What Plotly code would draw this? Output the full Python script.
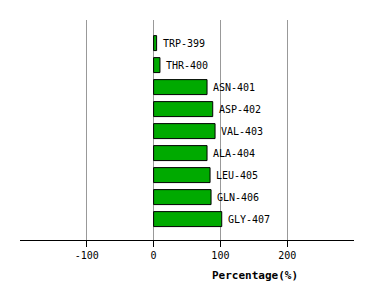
import plotly.graph_objects as go

residues = ["TRP-399", "THR-400", "ASN-401", "ASP-402", "VAL-403",
            "ALA-404", "LEU-405", "GLN-406", "GLY-407"]
percentages = [4.5, 9.5, 80, 88.5, 92, 80, 84.5, 86, 102]
tick_values = [-100, 0, 100, 200]
tick_labels = ["-100", "0", "100", "200"]

MONO = "DejaVu Sans Mono"

fig = go.Figure()
fig.add_trace(go.Bar(
    x=percentages,
    y=residues,
    orientation="h",
    width=0.68,
    marker=dict(color="#00aa00", line=dict(color="black", width=1)),
    hoverinfo="skip",
))

annotations = [dict(
    x=v, y=r, xref="x", yref="y", text=r,
    xanchor="left", yanchor="middle", xshift=4,
    showarrow=False,
    font=dict(family=MONO, size=10, color="black"),
) for r, v in zip(residues, percentages)]

annotations.append(dict(
    text="<b>Percentage(%)</b>",
    xref="paper", yref="paper",
    x=0.704, y=-0.163, xanchor="center", yanchor="middle",
    showarrow=False,
    font=dict(family=MONO, size=11, color="black"),
))

fig.update_layout(
    width=374, height=300,
    margin=dict(l=20, r=20, t=20, b=60),
    paper_bgcolor="white", plot_bgcolor="white",
    showlegend=False,
    font=dict(family=MONO, size=10, color="black"),
    xaxis=dict(
        range=[-200, 300],
        tickvals=tick_values,
        ticktext=tick_labels,
        showgrid=True, gridcolor="#999999", gridwidth=1,
        zeroline=False,
        showline=True, linecolor="black", linewidth=1,
        ticks="outside", ticklen=6, tickcolor="black", tickwidth=1,
        tickfont=dict(family=MONO, size=10, color="black"),
        fixedrange=True,
    ),
    yaxis=dict(
        type="category",
        categoryorder="array", categoryarray=residues,
        range=[8.95, -1.05],
        showticklabels=False, showgrid=False, zeroline=False, showline=False,
        ticks="",
        fixedrange=True,
    ),
    annotations=annotations,
)

fig.write_html("out.html")
